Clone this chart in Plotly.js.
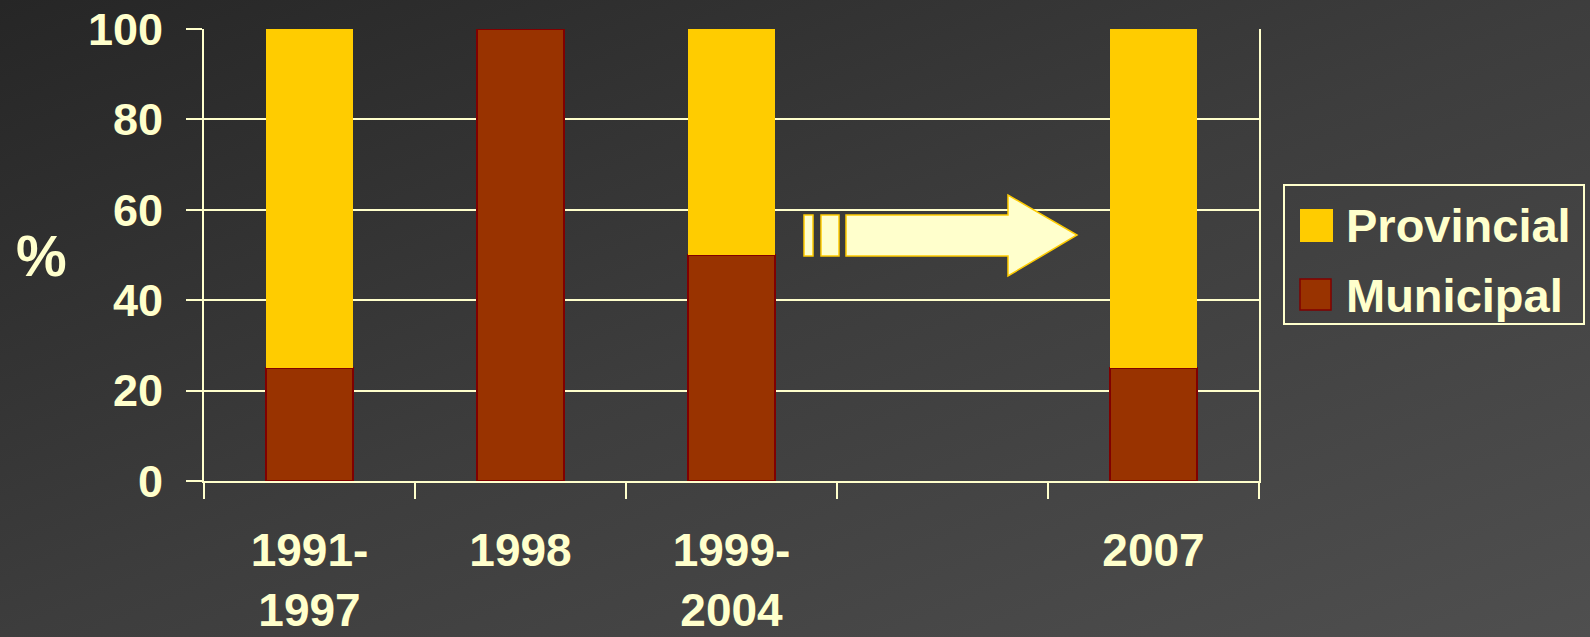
<!DOCTYPE html>
<html>
<head>
<meta charset="utf-8">
<script src="https://cdn.plot.ly/plotly-3.0.1.min.js"></script>
<style>
html,body{margin:0;padding:0;width:1590px;height:637px;overflow:hidden;
background:linear-gradient(to bottom right,#262626 0%,#3d3d3d 50%,#4f4f4f 100%);}
#chart{width:1590px;height:637px;}
</style>
</head>
<body>
<div id="chart"></div>
<script>
// ---- data ----
const categories = ["1991-<br>1997", "1998", "1999-<br>2004", " ", "2007"];
const municipal = [25, 100, 50, null, 25];
const provincial = [75, 0, 50, null, 75];
const seriesNames = ["Provincial", "Municipal"];
const yTickVals = [0, 20, 40, 60, 80, 100];
const yAxisLabel = "%";

// ---- style ----
const CREAM = "#FFFFCC";
const GOLD = "#FFCC00";
const BROWN = "#993300";
const DARKRED = "#800000";
const W = 1590, H = 637;
const M = {l: 204, r: 331, t: 29, b: 156};
const PW = W - M.l - M.r, PH = H - M.t - M.b;
const px = x => (x - M.l) / PW;
const py = y => (H - M.b - y) / PH;

const traces = [
  {type: "bar", name: seriesNames[1], x: categories, y: municipal,
   marker: {color: BROWN, line: {color: DARKRED, width: 1.5}}, showlegend: false},
  {type: "bar", name: seriesNames[0], x: categories, y: provincial,
   marker: {color: GOLD, line: {color: GOLD, width: 0}}, showlegend: false}
];

// arrow decoration (pixel positions converted to paper)
function rectPath(x0, y0, x1, y1) {
  return `M${px(x0)},${py(y0)} L${px(x1)},${py(y0)} L${px(x1)},${py(y1)} L${px(x0)},${py(y1)} Z`;
}
const arrowPath = `M${px(846)},${py(215)} L${px(1008)},${py(215)} L${px(1008)},${py(195)} L${px(1077)},${py(235)} L${px(1008)},${py(276)} L${px(1008)},${py(256)} L${px(846)},${py(256)} Z`;

const shapes = [
  {type: "path", xref: "paper", yref: "paper", path: rectPath(804, 215, 813, 256), fillcolor: CREAM, line: {color: GOLD, width: 1.5}, layer: "above"},
  {type: "path", xref: "paper", yref: "paper", path: rectPath(821, 215, 839, 256), fillcolor: CREAM, line: {color: GOLD, width: 1.5}, layer: "above"},
  {type: "path", xref: "paper", yref: "paper", path: arrowPath, fillcolor: CREAM, line: {color: GOLD, width: 1.5}, layer: "above"},
  // legend box
  {type: "rect", xref: "paper", yref: "paper", x0: px(1284), x1: px(1584), y0: py(185), y1: py(324), fillcolor: "rgba(0,0,0,0)", line: {color: CREAM, width: 2}},
  {type: "rect", xref: "paper", yref: "paper", x0: px(1300), x1: px(1333), y0: py(209), y1: py(242), fillcolor: GOLD, line: {width: 0}},
  {type: "rect", xref: "paper", yref: "paper", x0: px(1300), x1: px(1331), y0: py(279), y1: py(310), fillcolor: BROWN, line: {color: DARKRED, width: 1.5}}
];

const fam = "Liberation Sans, Arial, sans-serif";
const tickFont = {family: fam, size: 45, color: CREAM, weight: "bold"};
const legFont = {family: fam, size: 47, color: CREAM, weight: "bold"};

const annotations = [
  {xref: "paper", yref: "paper", x: px(41), y: py(256), text: yAxisLabel, showarrow: false, xanchor: "center", yanchor: "middle",
   font: {family: fam, size: 57, color: CREAM, weight: "bold"}},
  {xref: "paper", yref: "paper", x: px(1344), y: py(226), text: seriesNames[0], showarrow: false, xanchor: "left", yanchor: "middle", font: legFont},
  {xref: "paper", yref: "paper", x: px(1344), y: py(295), text: seriesNames[1], showarrow: false, xanchor: "left", yanchor: "middle", font: legFont}
];

const layout = {
  width: W, height: H,
  margin: M,
  paper_bgcolor: "rgba(0,0,0,0)",
  plot_bgcolor: "rgba(0,0,0,0)",
  barmode: "stack",
  bargap: 0.588,
  showlegend: false,
  xaxis: {
    type: "category", categoryorder: "array", categoryarray: categories,
    tickson: "boundaries", ticks: "outside", ticklen: 16, tickwidth: 2, tickcolor: CREAM,
    showline: true, linecolor: CREAM, linewidth: 2, showgrid: false, zeroline: false,
    tickfont: {family: fam, size: 46, color: CREAM, weight: "bold"},
    ticklabelstandoff: 28
  },
  yaxis: {
    range: [0, 100], tickvals: yTickVals, ticks: "outside", ticklen: 16, tickwidth: 2, tickcolor: CREAM,
    showline: true, mirror: true, linecolor: CREAM, linewidth: 2,
    showgrid: true, gridcolor: CREAM, gridwidth: 2, zeroline: false,
    tickfont: tickFont, ticklabelstandoff: 14
  },
  shapes: shapes,
  annotations: annotations
};

Plotly.newPlot("chart", traces, layout, {staticPlot: true, displayModeBar: false});
</script>
</body>
</html>
